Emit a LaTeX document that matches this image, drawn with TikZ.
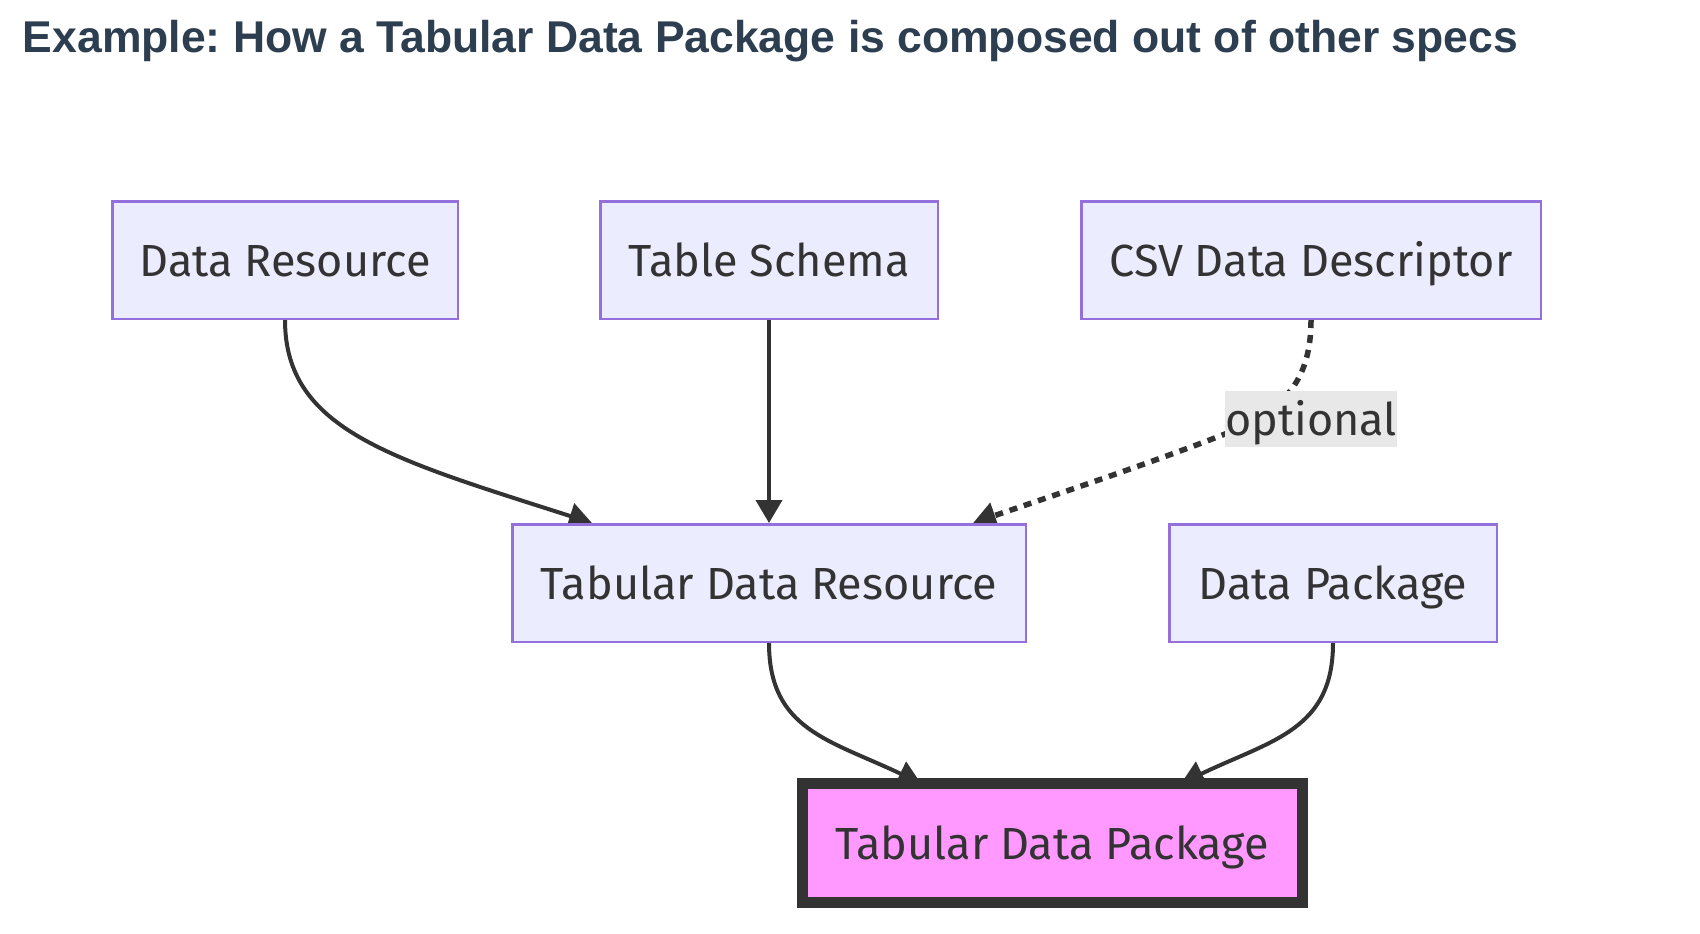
\documentclass[tikz,border=0pt]{standalone}
\usepackage{fontspec}
\setmainfont{Fira Sans}
\newfontfamily\titlefont{Liberation Sans}
\usetikzlibrary{arrows.meta,backgrounds,calc}
\definecolor{nodefill}{HTML}{ECECFF}
\definecolor{nodeline}{HTML}{9370DB}
\definecolor{ink}{HTML}{333333}
\definecolor{titleink}{HTML}{2C3E50}
\definecolor{pinkfill}{HTML}{FF99FF}
\definecolor{labelbg}{HTML}{E8E8E8}
\frenchspacing
\begin{document}
\begin{tikzpicture}[x=1pt,y=-1pt,
  nodefont/.style={font=\fontsize{45}{54}\selectfont},
  spec/.style={draw=nodeline, line width=2.5pt, fill=nodefill, text=ink, inner sep=0pt,
    minimum height=117.5pt, text height=36pt, text depth=4pt, nodefont},
  goal/.style={draw=ink, line width=11pt, fill=pinkfill, text=ink, inner sep=0pt,
    minimum width=500pt, minimum height=119pt, text height=36pt, text depth=4pt, nodefont},
  edge/.style={draw=ink, line width=4pt, -{Triangle[length=23pt,width=26pt]}},
  optedge/.style={edge, line width=5.5pt, dash pattern=on 8pt off 7pt},
  lab/.style={fill=labelbg, text=ink, inner sep=0pt, minimum width=166pt, minimum height=56pt,
    text height=36pt, text depth=4pt, nodefont}
]
\useasboundingbox (0,0) rectangle (1700,934);
\node[anchor=base west, inner sep=0pt, text=titleink, font=\titlefont\bfseries\fontsize{44.5}{54}\selectfont] (title) at (22.7,52.7) {Example: How a Tabular Data Package is composed out of other specs};

\node[spec, minimum width=345.5pt] (dr) at (285,260) {Data Resource};
\node[spec, minimum width=337.5pt] (ts) at (769,260) {Table Schema};
\node[spec, minimum width=459.5pt] (csv) at (1311,260) {CSV Data Descriptor};
\node[spec, minimum width=513.5pt] (tdr) at (769,583) {Tabular Data Resource};
\node[spec, minimum width=327.5pt] (dp) at (1333,583) {Data Package};
\node[goal] (tdp) at (1052,843) {Tabular Data Package};
\node[lab] (optl) at (1311,419) {optional};

\begin{scope}[on background layer]
  \fill[white] (0,0) rectangle (1700,934);
  \draw[edge] (dr.south) .. controls (285,430) and (392,459) .. ($(tdr.north west)+(81,0)$);
  \draw[edge] (ts.south) -- (tdr.north);
  \draw[optedge] (csv.south) .. controls (1311,385) and (1280,410) .. (1230,432)
    .. controls (1160,460) and (1040,500) .. ($(tdr.north west)+(462,0)$);
  \draw[edge] (tdr.south) .. controls (769,730) and (830,740) .. ($(tdp.north)+(-131,5.5)$);
  \draw[edge] (dp.south) .. controls (1333,730) and (1272,740) .. ($(tdp.north)+(129,5.5)$);
\end{scope}
\end{tikzpicture}
\end{document}
